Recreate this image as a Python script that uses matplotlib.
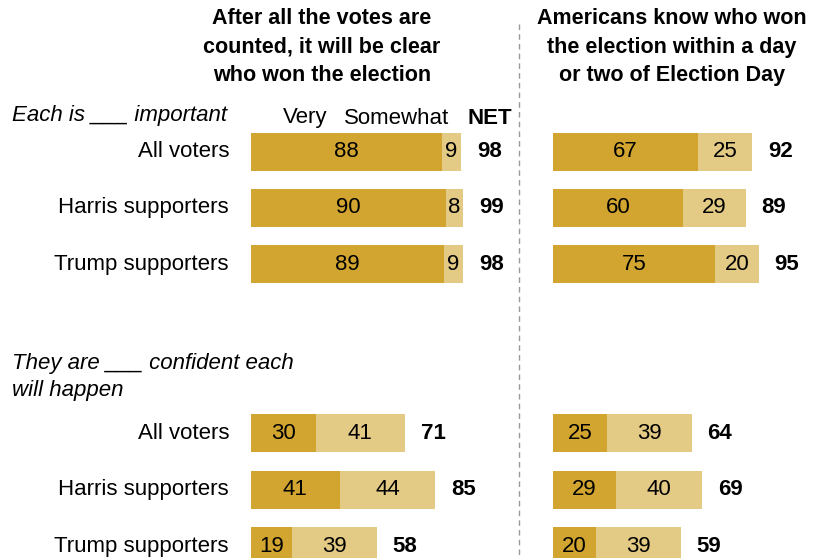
import matplotlib.pyplot as plt
from matplotlib.transforms import blended_transform_factory

plt.rcParams['font.family'] = ['Liberation Sans', 'DejaVu Sans']

# ---- data ----
groups = ['All voters', 'Harris supporters', 'Trump supporters']

# "Each is ___ important"
imp_clear_very = [88, 90, 89]
imp_clear_some = [9, 8, 9]
imp_clear_net = [98, 99, 98]
imp_fast_very = [67, 60, 75]
imp_fast_some = [25, 29, 20]
imp_fast_net = [92, 89, 95]

# "They are ___ confident each will happen"
conf_clear_very = [30, 41, 19]
conf_clear_some = [41, 44, 39]
conf_clear_net = [71, 85, 58]
conf_fast_very = [25, 29, 20]
conf_fast_some = [39, 40, 39]
conf_fast_net = [64, 69, 59]

titles = ['After all the votes are\ncounted, it will be clear\nwho won the election',
          'Americans know who won\nthe election within a day\nor two of Election Day']

DARK = '#D2A530'
LIGHT = '#E3CA85'
FS = 16

W, H = 819, 558
fig = plt.figure(figsize=(W / 100, H / 100), dpi=100)

# row layout (row units, 56.5 px apart, first row 152 px from top)
rows_top = [0, 1, 2]
rows_bot = [5, 6, 7]
row_px = 56.5
y_top = -152 / row_px
y_bot = 7 + (H - 546) / row_px
bar_h = 38 / row_px

px_per_unit = 2.165
ax_w = 260
panels = []
for left_px in (251, 553):
    ax = fig.add_axes([left_px / W, 0, ax_w / W, 1])
    ax.set_xlim(0, ax_w / px_per_unit)
    ax.set_ylim(y_bot, y_top)
    ax.axis('off')
    panels.append(ax)

def draw(ax, rows, very, some, net):
    ax.barh(rows, very, height=bar_h, color=DARK, linewidth=0)
    ax.barh(rows, some, left=very, height=bar_h, color=LIGHT, linewidth=0)
    for r, v, s, n in zip(rows, very, some, net):
        ax.text(v / 2, r, str(v), ha='center', va='center', fontsize=FS, color='black')
        ax.text(v + s / 2, r, str(s), ha='center', va='center', fontsize=FS, color='black')
        ax.text(v + s + 16 / px_per_unit, r, str(n), ha='left', va='center',
                fontsize=FS, fontweight='bold', color='black')

draw(panels[0], rows_top, imp_clear_very, imp_clear_some, imp_clear_net)
draw(panels[1], rows_top, imp_fast_very, imp_fast_some, imp_fast_net)
draw(panels[0], rows_bot, conf_clear_very, conf_clear_some, conf_clear_net)
draw(panels[1], rows_bot, conf_fast_very, conf_fast_some, conf_fast_net)

# category labels, right aligned left of the bars
tr = blended_transform_factory(fig.transFigure, panels[0].transData)
for rows in (rows_top, rows_bot):
    for r, g in zip(rows, groups):
        fig.text(229 / W, r, g, transform=tr, ha='right', va='center', fontsize=FS)

def fy(px):
    return 1 - px / H

# column titles
fig.text(322 / W, fy(47), titles[0], ha='center', va='center', fontsize=15.5,
         fontweight='bold', linespacing=1.45)
fig.text(672 / W, fy(47), titles[1], ha='center', va='center', fontsize=15.5,
         fontweight='bold', linespacing=1.45)

# section headers
fig.text(12 / W, fy(116), 'Each is ___ important', ha='left', va='center',
         fontsize=FS, style='italic')
fig.text(12 / W, fy(377), 'They are ___ confident each\nwill happen', ha='left',
         va='center', fontsize=FS, style='italic', linespacing=1.4)

# legend row
fig.text(305 / W, fy(118), 'Very', ha='center', va='center', fontsize=FS)
fig.text(397 / W, fy(118), 'Somewhat', ha='center', va='center', fontsize=FS)
fig.text(490 / W, fy(119), 'NET', ha='center', va='center', fontsize=FS,
         fontweight='bold')

# dashed divider between the two panels
fig.add_artist(plt.Line2D([519 / W, 519 / W], [fy(24), 0], color='#9a9a9a',
                          linewidth=1, linestyle=(0, (4, 3))))

fig.savefig('out.png', dpi=100)
